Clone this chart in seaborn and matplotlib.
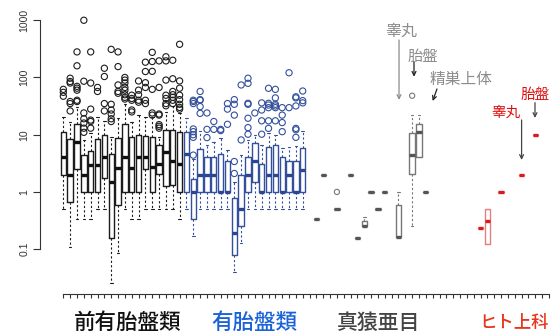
import numpy as np
import pandas as pd
import matplotlib
matplotlib.use("Agg")
import matplotlib.pyplot as plt
import seaborn as sns

sns.set_theme(style="white")
plt.rcParams["font.family"] = ["Liberation Sans", "Noto Sans CJK JP", "DejaVu Sans"]

N_SLOTS = 72  # tick slots on the x axis

# ---- 前有胎盤類: five-number summaries (low whisker, Q1, median, Q3, high whisker)
stem_pos = list(range(0, 18))
stem_box = [
    [0.5, 2, 4, 11, 20],
    [0.11, 0.68, 2, 8.3, 16.7],
    [0.34, 2.5, 7.6, 15.4, 30],
    [0.34, 1, 2, 4.4, 8.1],
    [0.34, 1, 3, 5.1, 10.6],
    [0.5, 1, 3, 8.4, 20.7],
    [0.5, 1.73, 4, 9.8, 17.6],
    [0.026, 0.155, 1.5, 4.55, 9.3],
    [0.085, 0.59, 2.66, 8.7, 19.4],
    [0.5, 1, 4, 15.4, 35],
    [0.34, 1, 2.6, 9.3, 16.9],
    [0.34, 1, 4, 9.9, 22],
    [0.5, 2.5, 4, 9.5, 20.7],
    [0.5, 1, 2.7, 9, 20],
    [0.5, 2.06, 3.08, 6.5, 9],
    [0.5, 1.27, 5.07, 12.1, 25],
    [0.5, 1.33, 3.53, 12.1, 31.7],
    [0.34, 1, 3.04, 11.3, 23.6],
]
stem_out = [
    [47, 55, 62],
    [26, 35, 38, 80, 85, 97],
    [38, 40, 60, 65, 70, 160, 280],
    [11, 13, 16, 19, 24, 86, 1000],
    [13, 17, 18, 28, 80, 280],
    [57, 67],
    [26, 35, 104, 145],
    [17, 19, 23, 27, 34, 310],
    [53, 57, 74, 155, 280],
    [42, 45, 50, 60, 67, 80, 90, 100],
    [25, 27, 40, 43, 49],
    [37, 40, 50, 60, 87],
    [35, 40, 67, 81, 127, 185],
    [22, 24, 62, 128, 190, 275],
    [13, 14, 15, 22, 23, 67, 195],
    [32, 35, 43, 49, 90, 195, 230],
    [35, 40, 45, 50, 57, 95, 200],
    [28, 30, 34, 41, 49, 65, 87, 380],
]

# ---- 有胎盤類
plac_pos = list(range(18, 36))
plac_box = [
    [0.5, 1, 4.6, 11, 19.4],
    [0.17, 0.33, 1, 1.7, 3.7],
    [0.5, 1, 2, 5.6, 11.8],
    [0.5, 1, 2, 4, 6.5],
    [0.5, 1, 2, 4, 7.6],
    [0.5, 1, 1, 4.55, 8.7],
    [0.5, 1, 1, 3.5, 5.4],
    [0.04, 0.079, 0.195, 0.775, 1.5],
    [0.127, 0.255, 0.5, 1.98, 4.4],
    [0.5, 1, 2, 4, 8.1],
    [0.5, 1.52, 3.5, 7.1, 9.9],
    [0.5, 1, 1, 3.04, 6.6],
    [0.5, 1, 2, 6, 10.9],
    [0.5, 1, 2, 6.6, 9.9],
    [0.5, 1, 1, 4, 5.8],
    [0.5, 1, 2, 3.5, 6.0],
    [0.5, 1, 1, 3.5, 6.35],
    [0.5, 1, 2.42, 5.8, 11.6],
]
plac_out = [
    [],
    [4.4, 9, 10, 11.3, 12.6, 35, 38, 40],
    [23.6, 31, 40, 41, 57],
    [8.9, 12.4, 24],
    [12.4, 17],
    [11.8, 12.4],
    [15.2, 28, 35],
    [2.1, 3.4, 22, 34, 41],
    [8.1, 74],
    [10.2, 13.3, 19.4, 34, 35.4, 79, 97],
    [24],
    [10.2, 17.5, 27, 36],
    [12.9, 17.5, 29.7, 33, 35.4, 64.7],
    [17.5, 29.7, 31.8, 34, 44, 62],
    [11.3, 16.3, 22, 29.7],
    [29.7, 121],
    [9, 12.2, 12.9, 31.8, 44, 46],
    [36, 39.4, 58],
]

# ---- 真猿亜目
anth_pos = [37, 38, 40, 42, 43, 44, 45, 46, 47, 49, 51, 52, 53]
anth_box = [
    [0.33],
    [2],
    [0.5],
    [2],
    [0.155],
    [0.25, 0.25, 0.25, 0.31, 0.36],
    [1],
    [0.5],
    [1],
    [0.166, 0.166, 0.166, 0.59, 1.0],
    [0.25, 2.06, 4.5, 10.5, 22],
    [4.08, 4.08, 11.1, 15.2, 22],
    [1],
]
anth_out = [[], [], [1], [], [], [], [], [], [], [], [48], [], []]

# ---- ヒト上科
homi_pos = [61, 62, 64, 67, 69]
homi_box = [
    [0.23],
    [0.124, 0.124, 0.315, 0.5, 0.5],
    [1],
    [2],
    [10],
]
homi_out = [[], [], [], [], []]

group_names = ["前有胎盤類", "有胎盤類", "真猿亜目", "ヒト上科"]


def long_table(pos, values):
    rows = [(p, v) for p, vs in zip(pos, values) for v in vs]
    return pd.DataFrame(rows, columns=["slot", "value"])


groups = [
    (stem_pos, stem_box, stem_out),
    (plac_pos, plac_box, plac_out),
    (anth_pos, anth_box, anth_out),
    (homi_pos, homi_box, homi_out),
]
styles = [
    dict(line="#1c1c1c", median="#111111", flier="#1c1c1c", ms=20),
    dict(line="#34509c", median="#2a4592", flier="#34509c", ms=20),
    dict(line="#777777", median="#555555", flier="#777777", ms=14),
    dict(line="#e58080", median="#d81b1b", flier="#d81b1b", ms=14),
]
label_colors = ["#111111", "#1a62d8", "#444444", "#e8341c"]

W, H = 551, 335
fig = plt.figure(figsize=(W / 100, H / 100), dpi=100)
ax = fig.add_axes([40 / W, 1 - 293.5 / H, (W - 40) / W, 293.5 / H])
ax.set_yscale("log")

for (pos, box, out), st in zip(groups, styles):
    sns.boxplot(
        data=long_table(pos, box), x="slot", y="value", native_scale=True,
        whis=(0, 100), fill=False, color=st["line"], width=0.78,
        linewidth=1.0, showfliers=False, ax=ax,
        medianprops=dict(color=st["median"], linewidth=2.4),
        whiskerprops=dict(linestyle=(0, (2, 2)), linewidth=0.8),
        capprops=dict(linewidth=0.8),
    )
    odf = long_table(pos, out)
    if len(odf):
        sns.scatterplot(
            data=odf, x="slot", y="value", marker="o", s=st["ms"],
            facecolor="none", edgecolor=st["flier"], linewidth=0.8,
            ax=ax, legend=False, zorder=3,
        )

ax.set_xlim(-3.41, 71.3)
ax.set_ylim(10 ** -1.775, 10 ** 3.354)
ax.set_xticks(range(N_SLOTS))
ax.set_xticklabels([])
ax.set_yticks([0.1, 1, 10, 100, 1000])
ax.set_yticklabels(["0.1", "1", "10", "100", "1000"])
ax.yaxis.set_minor_locator(matplotlib.ticker.NullLocator())
ax.tick_params(axis="y", which="major", direction="out", length=5.2, width=0.8,
               color="#333333", labelsize=7.5, labelcolor="#333333",
               labelrotation=90, pad=2.5, left=True)
for lab in ax.get_yticklabels():
    lab.set_va("center")
ax.tick_params(axis="x", which="major", direction="out", length=3, width=0.8,
               color="#333333", bottom=True)
ax.set_xlabel("")
ax.set_ylabel("")
for side in ["top", "right"]:
    ax.spines[side].set_visible(False)
ax.spines["left"].set_bounds(0.1, 1000)
ax.spines["bottom"].set_bounds(0, N_SLOTS - 1)
for side in ["left", "bottom"]:
    ax.spines[side].set_color("#333333")
    ax.spines[side].set_linewidth(0.8)

cjk = ["Noto Sans CJK JP", "DejaVu Sans"]

# group names under the axis
label_x = [127.6, 254, 378.5, 548.5]
label_ha = ["center", "center", "center", "right"]
label_fs = [15.5, 15.5, 15.0, 12.5]
for name, xp, ha, fs, col in zip(group_names, label_x, label_ha, label_fs, label_colors):
    fig.text(xp / W, 1 - 322.8 / H, name, ha=ha, va="center",
             fontsize=fs, color=col, family=cjk, fontweight="medium")

# tissue call-outs
notes = [
    ("睾丸", (49.37, 631), (49.08, 452), (49.08, 40.5), "#8c8c8c", "#8c8c8c", 11.5),
    ("胎盤", (52.5, 231), (51.27, 189), (51.27, 103), "#8c8c8c", "#222222", 11.0),
    ("精巣上体", (58.2, 94), (54.63, 63), (54.0, 38.8), "#8c8c8c", "#222222", 11.3),
    ("睾丸", (64.7, 24.3), (67.0, 18.1), (67.0, 3.62), "#dd1111", "#444444", 10.5),
    ("胎盤", (68.96, 49.5), (68.96, 36.3), (68.96, 19.6), "#dd1111", "#444444", 10.5),
]
for txt, tpos, a0, a1, tcol, acol, fs in notes:
    ax.text(tpos[0], tpos[1], txt, ha="center", va="center", color=tcol,
            fontsize=fs, family=cjk, clip_on=False)
    ax.annotate("", xy=a1, xytext=a0,
                arrowprops=dict(arrowstyle="->", color=acol, lw=0.9,
                                shrinkA=0, shrinkB=0, mutation_scale=7))

fig.savefig("out.png", dpi=100)
